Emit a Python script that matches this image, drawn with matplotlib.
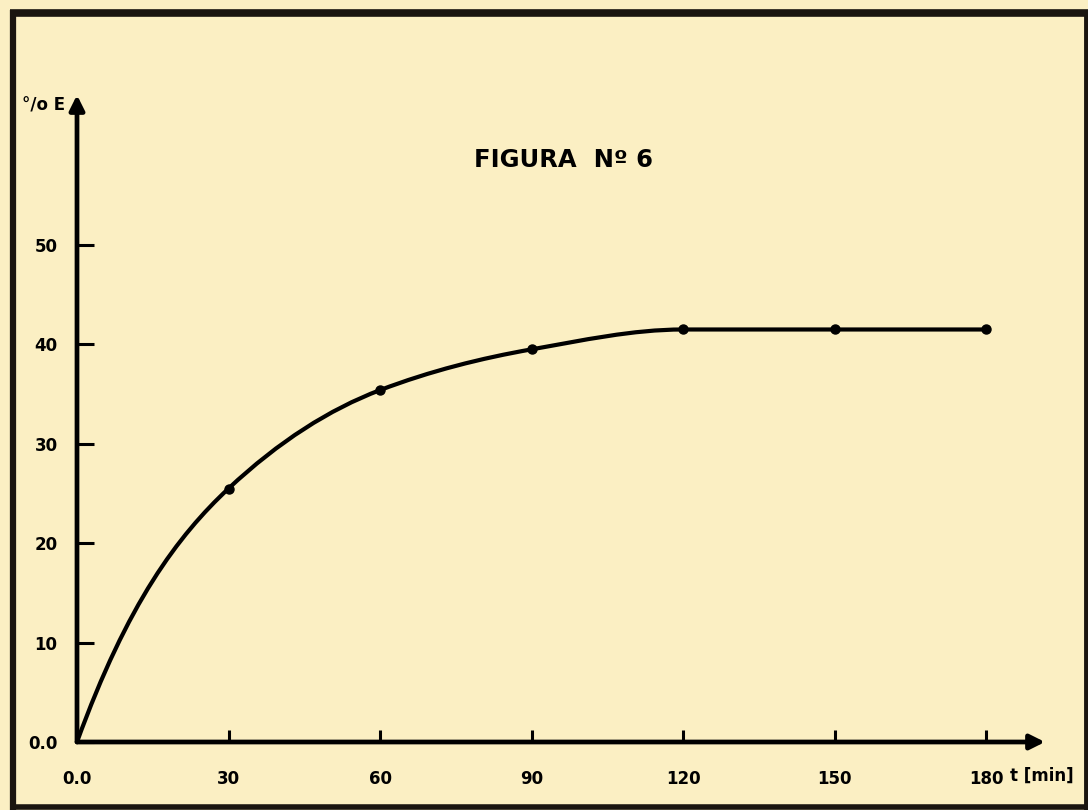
import numpy as np
import matplotlib
matplotlib.use("Agg")
import matplotlib.pyplot as plt
from matplotlib.path import Path
from matplotlib.patches import PathPatch
from matplotlib.lines import Line2D

# Data
t_min = [0, 30, 60, 90, 120, 150, 180]
pct_E = [0.0, 25.5, 35.4, 39.5, 41.5, 41.5, 41.5]
x_ticks = [0, 30, 60, 90, 120, 150, 180]
x_tick_labels = ["0.0", "30", "60", "90", "120", "150", "180"]
y_ticks = [0, 10, 20, 30, 40, 50]
y_tick_labels = ["0.0", "10", "20", "30", "40", "50"]

BG = "#fbefc3"
W, H = 1088, 810
fig = plt.figure(figsize=(W / 100, H / 100), dpi=100, facecolor=BG)

# axes placed in pixel terms
left_px, right_px, bottom_px, top_px = 77, 1045, 742, 95
ax = fig.add_axes([left_px / W, (H - bottom_px) / H,
                   (right_px - left_px) / W, (bottom_px - top_px) / H])
ax.set_facecolor("none")
px_per_x = 909 / 180
px_per_y = 99.4 / 10
ax.set_xlim(0, (right_px - left_px) / px_per_x)
ax.set_ylim(0, (bottom_px - top_px) / px_per_y)
for s in ax.spines.values():
    s.set_visible(False)

# axis arrows
arrow_kw = dict(arrowstyle="-|>", lw=3.4, color="black", mutation_scale=22,
                shrinkA=0, shrinkB=0)
ax.annotate("", xy=(1.0, 0), xytext=(0, 0), xycoords="axes fraction",
            arrowprops=arrow_kw, annotation_clip=False)
ax.annotate("", xy=(0, 1.0), xytext=(0, 0), xycoords="axes fraction",
            arrowprops=arrow_kw, annotation_clip=False)

# smooth monotone curve through the measured points (Bezier path drawn by matplotlib)
x = np.asarray(t_min, float)
y = np.asarray(pct_E, float)
h = np.diff(x)
s = np.diff(y) / h
d = np.zeros_like(x)
for i in range(1, len(x) - 1):
    if s[i - 1] * s[i] > 0:
        d[i] = 2 * s[i - 1] * s[i] / (s[i - 1] + s[i])
    else:
        d[i] = 0.0
d[0] = min(3 * s[0] - 2 * d[1], 1.65 * s[0])
d[-1] = 0.0
verts = [(x[0], y[0])]
codes = [Path.MOVETO]
for i in range(len(x) - 1):
    verts += [(x[i] + h[i] / 3, y[i] + d[i] * h[i] / 3),
              (x[i + 1] - h[i] / 3, y[i + 1] - d[i + 1] * h[i] / 3),
              (x[i + 1], y[i + 1])]
    codes += [Path.CURVE4] * 3
ax.add_patch(PathPatch(Path(verts, codes), fill=False, lw=3.0, edgecolor="black",
                       capstyle="round", joinstyle="round"))
ax.plot(t_min[1:], pct_E[1:], "o", color="black", ms=6.5, zorder=5)

# ticks
ax.set_xticks(x_ticks)
ax.set_xticklabels(x_tick_labels)
ax.set_yticks(y_ticks)
ax.set_yticklabels(y_tick_labels)
ax.tick_params(axis="x", direction="in", length=9, width=2.2, pad=20,
               labelsize=12, colors="black")
ax.tick_params(axis="y", direction="in", length=12, width=2.2, pad=14,
               labelsize=12, colors="black")
for lab in ax.get_xticklabels() + ax.get_yticklabels():
    lab.set_fontweight("heavy")
    lab.set_family("DejaVu Sans")

fig.text(1010 / W, 1 - 776 / H, "t [min]", fontsize=12, fontweight="heavy",
         ha="left", va="center", family="DejaVu Sans")
fig.text(22 / W, 1 - 105 / H, "°/o E", fontsize=12, fontweight="heavy",
         ha="left", va="center", family="DejaVu Sans")
fig.text(564 / W, 1 - 160 / H, "FIGURA  Nº 6", fontsize=17.5, fontweight="heavy",
         ha="center", va="center", family="DejaVu Sans")

# page frame (thick border lines)
def fline(x0, y0, x1, y1, lw):
    fig.add_artist(Line2D([x0 / W, x1 / W], [1 - y0 / H, 1 - y1 / H],
                          color="#1a1510", lw=lw, solid_capstyle="butt",
                          transform=fig.transFigure))
fline(13, 10, 13, 810, 4.5)
fline(10, 13, 1088, 13, 5.5)
fline(1086, 13, 1086, 810, 3.5)
fline(10, 807, 1088, 807, 4.0)

fig.savefig("out.png", dpi=100, facecolor=BG)
